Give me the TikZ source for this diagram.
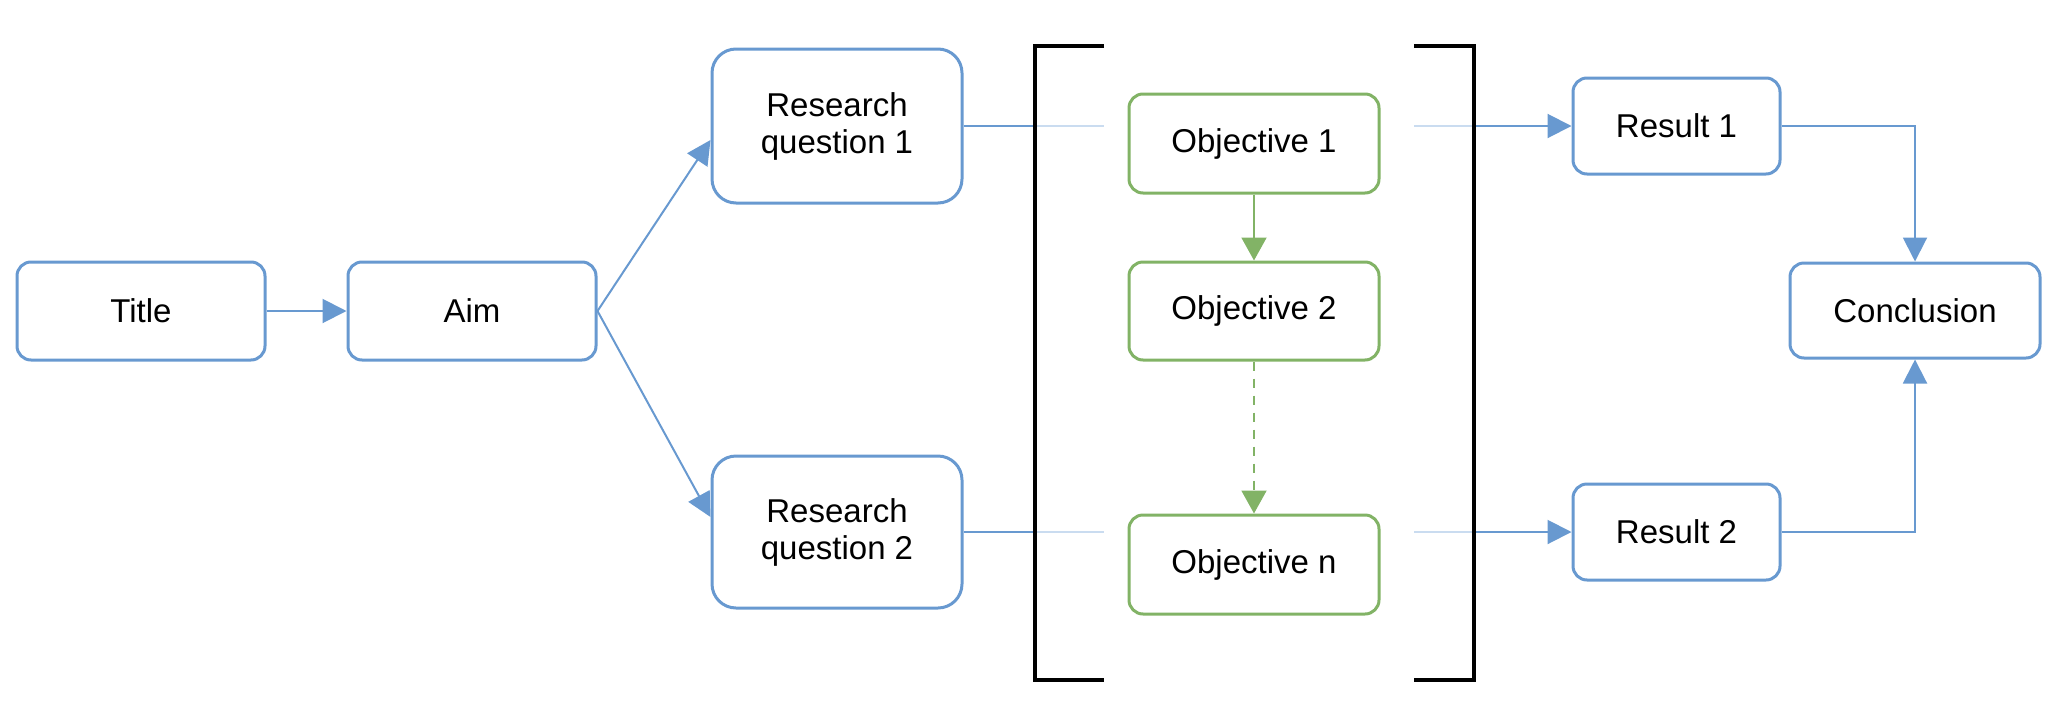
\documentclass[tikz,border=0pt]{standalone}
\usepackage{fontspec}
\setmainfont{Liberation Sans}
\usetikzlibrary{arrows.meta,calc}
\definecolor{bl}{HTML}{6899D0}
\definecolor{gr}{HTML}{82B366}
\definecolor{lbl}{HTML}{CADCF0}
\begin{document}
\begin{tikzpicture}[x=1pt,y=-1pt,
  box/.style={draw=bl, line width=3pt, rounded corners=14pt, fill=white, align=center, inner sep=0pt, font=\fontsize{33}{37}\selectfont},
  rbox/.style={box, rounded corners=24pt},
  gbox/.style={box, draw=gr},
  conn/.style={draw=bl, line width=2pt},
  arr/.style={conn, -{Triangle[length=24pt,width=24pt]}},
  garr/.style={draw=gr, line width=2pt, -{Triangle[length=23pt,width=25pt]}},
  light/.style={draw=lbl, line width=2pt},
  brk/.style={draw=black, line width=4pt}]
\useasboundingbox (0,0) rectangle (2054,718);
% nodes
\node[box, minimum width=248pt, minimum height=98pt] (title) at (141,311) {Title};
\node[box, minimum width=248pt, minimum height=98pt] (aim) at (472,311) {Aim};
\node[rbox, minimum width=250pt, minimum height=154pt] (rq1) at (837,126) {Research\\question 1};
\node[rbox, minimum width=250pt, minimum height=152pt] (rq2) at (837,532) {Research\\question 2};
\node[gbox, minimum width=250pt, minimum height=99pt] (obj1) at (1254,143.5) {Objective 1};
\node[gbox, minimum width=250pt, minimum height=98pt] (obj2) at (1254,311) {Objective 2};
\node[gbox, minimum width=250pt, minimum height=99pt] (objn) at (1254,564.5) {Objective n};
\node[box, minimum width=207pt, minimum height=96pt] (res1) at (1676.5,126) {Result 1};
\node[box, minimum width=207pt, minimum height=96pt] (res2) at (1676.5,532) {Result 2};
\node[box, minimum width=250pt, minimum height=95pt] (concl) at (1915,310.5) {Conclusion};
% coordinates for the bracket pass-through
\coordinate (bl1) at (1035,126);
\coordinate (le1) at (1104,126);
\coordinate (rs1) at (1414,126);
\coordinate (rb1) at (1474,126);
\coordinate (bl2) at (1035,532);
\coordinate (le2) at (1104,532);
\coordinate (rs2) at (1414,532);
\coordinate (rb2) at (1474,532);
% connectors
\draw[arr] (title.east) -- (aim.west);
\draw[arr] (aim.east) -- ($(rq1.west)+(0,14)$);
\draw[arr] (aim.east) -- ($(rq2.west)+(0,-15)$);
\draw[conn] (rq1.east) -- (bl1);
\draw[conn] (rq2.east) -- (bl2);
\draw[light] (bl1) -- (le1);
\draw[light] (bl2) -- (le2);
\draw[light] (rs1) -- (rb1);
\draw[light] (rs2) -- (rb2);
\draw[arr] (rb1) -- (res1.west);
\draw[arr] (rb2) -- (res2.west);
\draw[garr] (obj1.south) -- (obj2.north);
\draw[garr, dash pattern=on 9pt off 8pt] (obj2.south) -- (objn.north);
\draw[arr] (res1.east) -| (concl.north);
\draw[arr] (res2.east) -| (concl.south);
% brackets
\draw[brk] (1104,46) -- (1035,46) -- (1035,680) -- (1104,680);
\draw[brk] (1414,46) -- (1474,46) -- (1474,680) -- (1414,680);
\end{tikzpicture}
\end{document}
